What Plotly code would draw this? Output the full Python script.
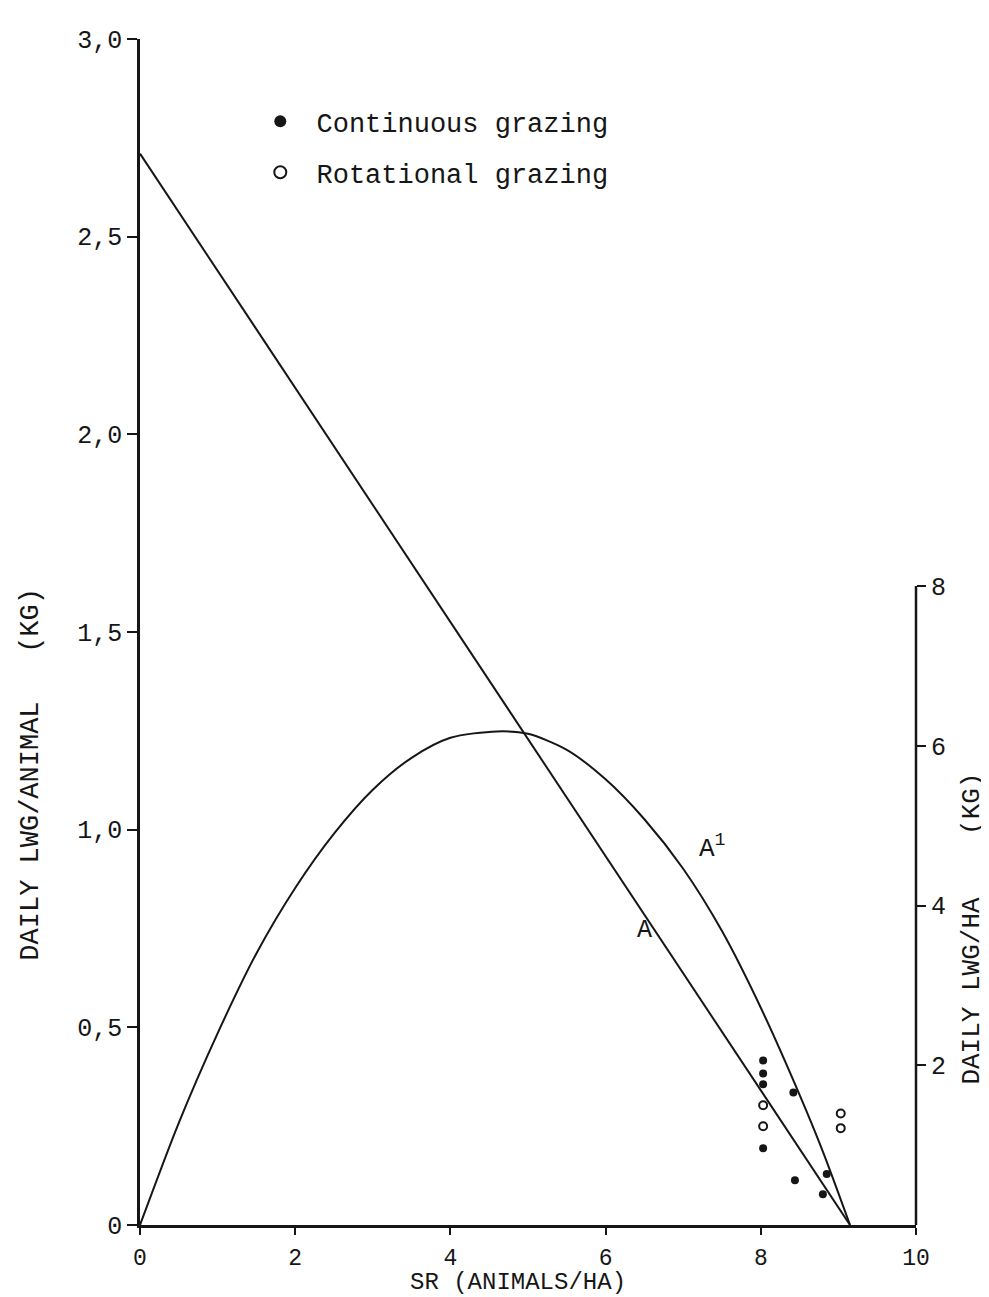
import plotly.graph_objects as go

# ---- data ----
# Line A: daily LWG per animal (kg) vs stocking rate
line_a_sr = [0.0, 9.15]
line_a_lwg = [2.71, 0.0]

# Curve A1: daily LWG per ha (kg), right axis
curve_a1_sr = [0.0, 0.5, 1.0, 1.5, 2.0, 2.5, 3.0, 3.5, 4.0, 4.6, 5.0, 5.5,
               6.0, 6.5, 7.0, 7.5, 8.0, 8.5, 8.8, 9.15]
curve_a1_lwg_ha = [0.0, 1.28, 2.40, 3.40, 4.22, 4.90, 5.45, 5.85, 6.10, 6.18,
                   6.15, 5.95, 5.58, 5.08, 4.46, 3.68, 2.72, 1.63, 0.92, 0.0]

# Observations (kg/animal)
cont_sr = [8.03, 8.03, 8.03, 8.03, 8.42, 8.44, 8.80, 8.85]
cont_lwg = [0.416, 0.383, 0.356, 0.194, 0.335, 0.113, 0.078, 0.129]
rot_sr = [8.03, 8.03, 9.03, 9.03]
rot_lwg = [0.303, 0.250, 0.282, 0.245]

left_ticks = [0, 0.5, 1.0, 1.5, 2.0, 2.5, 3.0]
left_ticktext = ["0", "0,5", "1,0", "1,5", "2,0", "2,5", "3,0"]
right_ticks = [2, 4, 6, 8]
x_ticks = [0, 2, 4, 6, 8, 10]

FONT = "Liberation Mono"
INK = "#161616"
NB = "\u00a0"

fig = go.Figure()
fig.add_trace(go.Scatter(x=line_a_sr, y=line_a_lwg, mode="lines",
                         line=dict(color=INK, width=2), showlegend=False,
                         hoverinfo="skip"))
fig.add_trace(go.Scatter(x=curve_a1_sr, y=curve_a1_lwg_ha, mode="lines",
                         line=dict(color=INK, width=2, shape="spline", smoothing=0.8),
                         yaxis="y2", showlegend=False, hoverinfo="skip"))
fig.add_trace(go.Scatter(x=cont_sr, y=cont_lwg, mode="markers",
                         name=NB + "Continuous grazing", legendgroup="c",
                         marker=dict(symbol="circle", size=8, color=INK)))
fig.add_trace(go.Scatter(x=rot_sr, y=rot_lwg, mode="markers",
                         name=NB + "Rotational grazing", legendgroup="r",
                         marker=dict(symbol="circle-open", size=8, color=INK,
                                     line=dict(width=2, color=INK))))

fig.update_layout(
    width=989, height=1297,
    margin=dict(l=132, r=81, t=31, b=80),
    paper_bgcolor="white", plot_bgcolor="white",
    font=dict(family=FONT, size=24, color=INK),
    showlegend=True,
    legend=dict(x=0.155, y=0.951, xanchor="left", yanchor="top",
                bgcolor="rgba(0,0,0,0)", borderwidth=0,
                font=dict(family=FONT, size=27, color=INK),
                tracegroupgap=13, itemsizing="constant"),
    xaxis=dict(range=[0, 10], tickvals=x_ticks, ticks="outside", ticklen=7,
               tickwidth=2, tickcolor=INK, showline=True, linewidth=3,
               linecolor=INK, showgrid=False, zeroline=False,
               ticklabelstandoff=2,
               tickfont=dict(family=FONT, size=23)),
    yaxis=dict(range=[0, 3], tickvals=left_ticks, ticktext=left_ticktext,
               ticks="outside", ticklen=10, tickwidth=2, tickcolor=INK,
               showline=True, linewidth=2.5, linecolor=INK, showgrid=False,
               zeroline=False, tickfont=dict(family=FONT, size=25)),
    yaxis2=dict(range=[0, 14.85], overlaying="y", side="right", tickvals=right_ticks,
                ticks="outside", ticklen=9, tickwidth=2, tickcolor=INK,
                showline=False, showgrid=False, zeroline=False,
                tickfont=dict(family=FONT, size=25)),
)

# right axis line, drawn only up to 8
fig.add_shape(type="line", xref="paper", yref="y2", x0=1, x1=1, y0=0, y1=8,
              line=dict(color=INK, width=2.5))

fig.add_annotation(text="SR (ANIMALS/HA)", xref="paper", yref="paper",
                   x=0.487, y=-0.0605, showarrow=False, yanchor="bottom",
                   borderpad=0,
                   font=dict(family=FONT, size=24, color=INK))
fig.add_annotation(text="DAILY LWG/ANIMAL   (KG)", xref="paper", yref="paper",
                   x=-0.140, y=0.380, textangle=-90, showarrow=False,
                   xanchor="center", yanchor="middle",
                   font=dict(family=FONT, size=27, color=INK))
fig.add_annotation(text="DAILY LWG/HA    (KG)", xref="paper", yref="paper",
                   x=1.071, y=0.250, textangle=-90, showarrow=False,
                   xanchor="center", yanchor="middle",
                   font=dict(family=FONT, size=26, color=INK))
fig.add_annotation(text="A", x=6.5, y=0.745, showarrow=False,
                   font=dict(family=FONT, size=25, color=INK))
fig.add_annotation(text="A<sup>1</sup>", x=7.38, y=0.955, showarrow=False,
                   font=dict(family=FONT, size=26, color=INK))

fig.write_html("out.html")
